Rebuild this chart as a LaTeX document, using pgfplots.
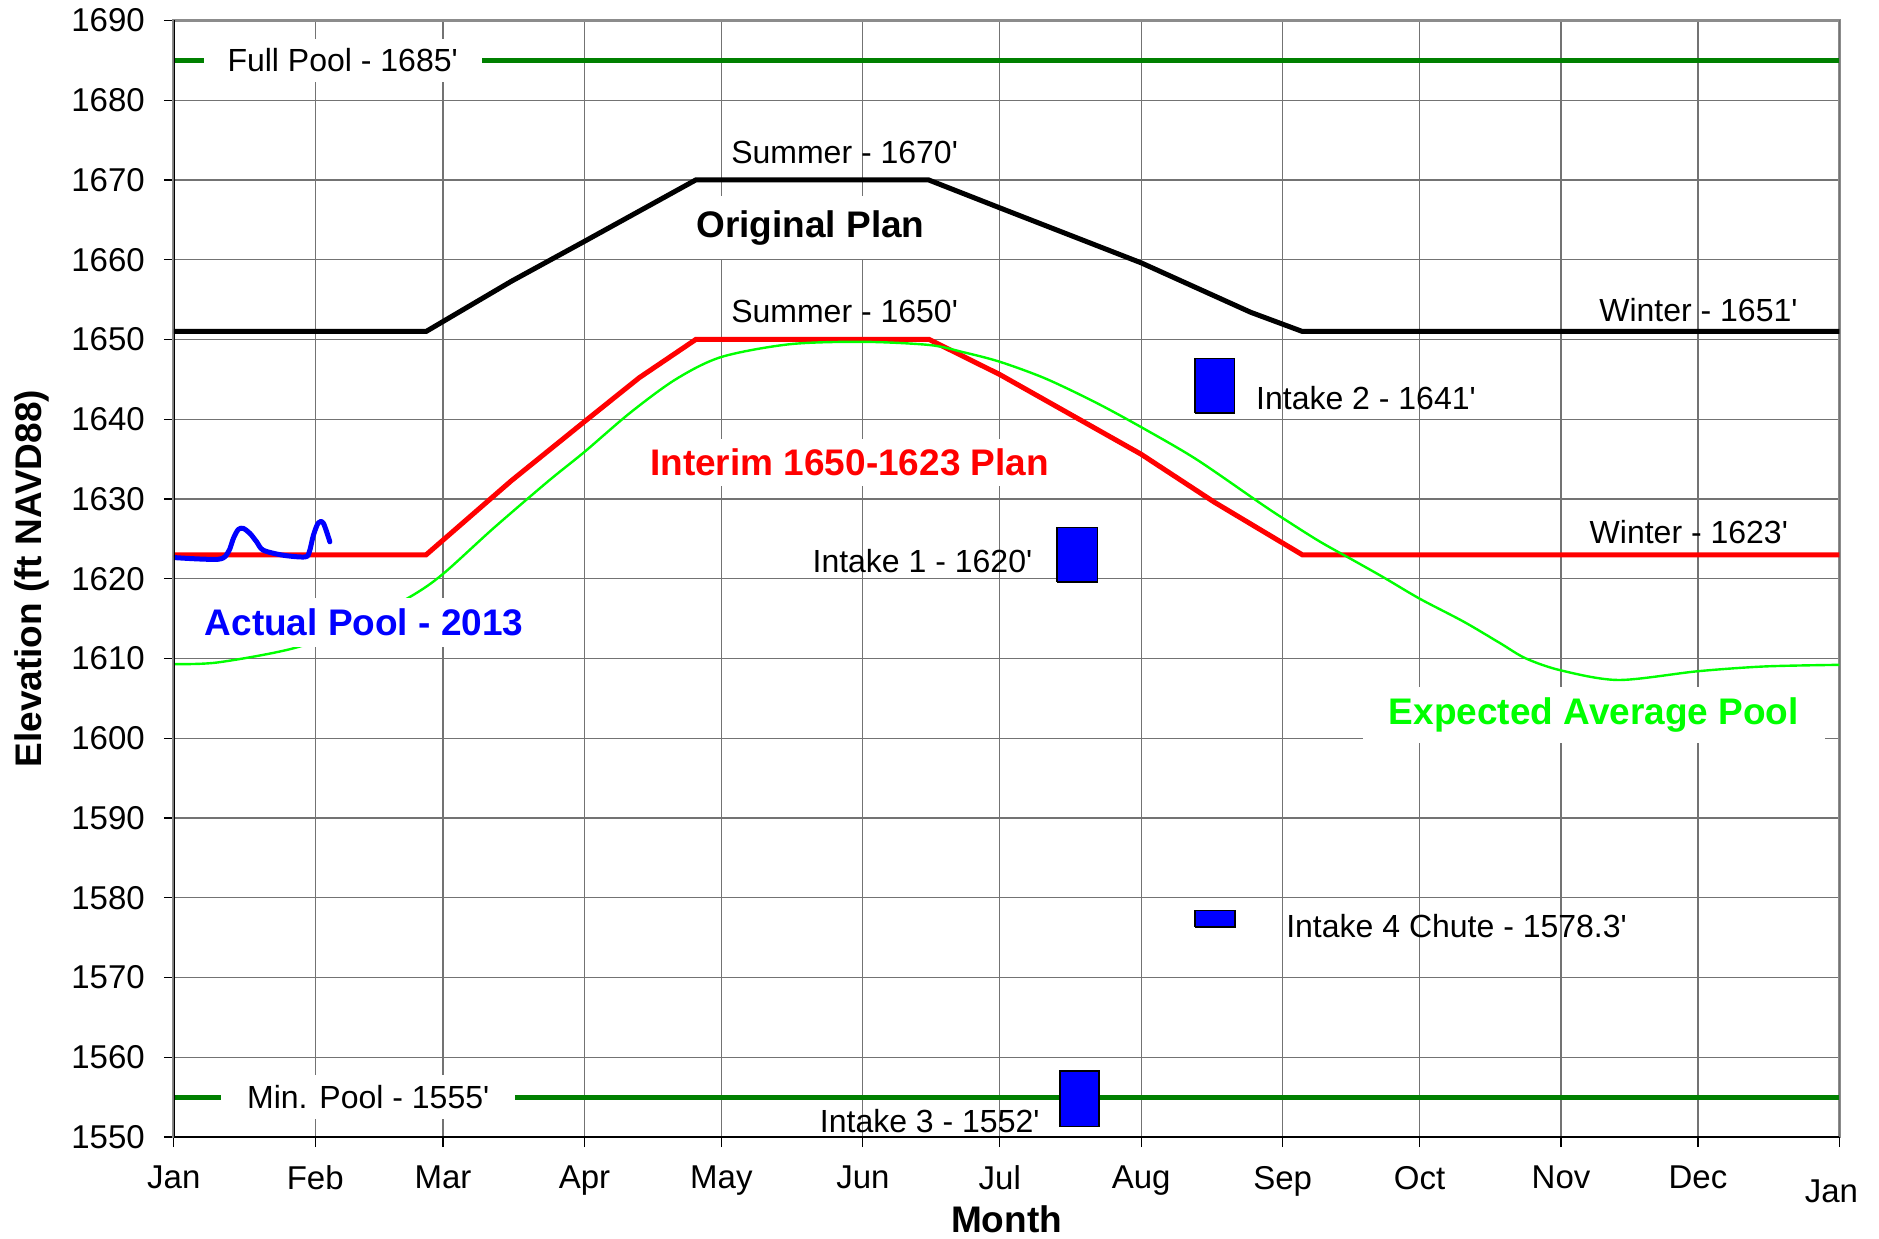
\documentclass[border=0pt]{standalone}
\usepackage{pgfplots}
\pgfplotsset{compat=1.18}
\usepackage{fontspec}
\setmainfont{Liberation Sans}[Ligatures=TeXOff]
\definecolor{poolgreen}{RGB}{0,128,0}
\definecolor{expgreen}{RGB}{0,255,0}
\begin{document}
\begin{tikzpicture}[
 lbl/.style={font=\fontsize{16}{19}\selectfont, inner sep=0pt},
 blbl/.style={font=\fontsize{18.5}{22}\selectfont\bfseries},
]
\begin{axis}[
 scale only axis, width=832.8pt, height=558.3pt,
 xmin=0, xmax=365, ymin=1550, ymax=1690,
 xtick={0,31,59,90,120,151,181,212,243,273,304,334},
 xticklabels={Jan,Feb,Mar,Apr,May,Jun,Jul,Aug,Sep,Oct,Nov,Dec},
 extra x ticks={365}, extra x tick labels={Jan},
 extra x tick style={xticklabel style={yshift=-7pt, xshift=-4pt}},
 ytick={1550,1560,...,1690},
 /pgf/number format/1000 sep={},
 /pgf/number format/assume math mode=true,
 ticklabel style={font=\fontsize{16.5}{19}\selectfont},
 xticklabel style={yshift=-6pt},
 yticklabel style={xshift=-6pt},
 tick align=outside, xtick pos=bottom, ytick pos=left,
 major tick length=5pt,
 tick style={black, line width=0.6pt},
 grid=major,
 major grid style={draw=black!55, line width=0.6pt},
 axis line style={draw=black!45, line width=1.3pt},
 xlabel={Month}, ylabel={Elevation (ft NAVD88)},
 label style={font=\fontsize{18.5}{22}\selectfont\bfseries},
 xlabel style={at={(axis description cs:0.5,-0.0734)}, anchor=center},
 ylabel style={at={(axis description cs:-0.0851,0.5)}, anchor=center},
]
% pool limits
\addplot[poolgreen, line width=2.5pt] coordinates {(0,1685) (365,1685)};
\addplot[poolgreen, line width=2.5pt] coordinates {(0,1555) (365,1555)};
% original plan
\addplot[black, line width=2.5pt] coordinates {
 (0,1651) (55.3,1651) (74,1657.3) (90,1662.3) (114.4,1670) (165.4,1670)
 (181,1666.5) (212,1659.6) (236,1653.4) (247.3,1651) (365,1651)};
% interim plan
\addplot[red, line width=2.5pt] coordinates {
 (0,1623) (55.3,1623) (74,1632.3) (90,1639.7) (102,1645.2) (114.4,1650)
 (165.5,1650) (181,1645.6) (212,1635.6) (228,1629.6) (247.3,1623) (365,1623)};
% expected average pool
\addplot[expgreen, line width=1.2pt, smooth] coordinates {
 (0,1609.3) (9.6,1609.5) (26.4,1611.3) (40,1614.2) (52,1617.8) (59,1620.6)
 (70,1626.3) (82,1632.2) (90,1635.9) (100,1640.8) (110,1645.0) (120,1647.8)
 (135,1649.4) (151,1649.7) (165.6,1649.3) (173,1648.4) (181,1647.2) (191,1645.1)
 (202,1642.1) (212,1639.0) (224,1635.0) (238,1629.5) (243,1627.6) (251,1624.7)
 (258.5,1622.3) (265,1620.2) (273,1617.5) (282.7,1614.6)
 (290.7,1611.9) (296.3,1610.0) (304,1608.5) (316.6,1607.3) (334,1608.4)
 (348.7,1609.0) (365,1609.2)};
% actual pool 2013
\addplot[blue, line width=2.5pt, smooth, line cap=round, line join=round] coordinates {
 (0,1622.65) (9.76,1622.44) (11.95,1623.36) (13.05,1625.04) (14.14,1626.18)
 (15.24,1626.30) (16.70,1625.67) (18.16,1624.62) (19.62,1623.57) (24.0,1622.94)
 (28.75,1622.73) (29.7,1623.36) (30.6,1625.46) (31.7,1627.02) (32.8,1626.93)
 (34.2,1624.62)};
% intakes
\addplot[fill=blue, draw=black, line width=0.8pt] coordinates {
 (193.6,1619.6) (202.4,1619.6) (202.4,1626.4) (193.6,1626.4) (193.6,1619.6)};
\addplot[fill=blue, draw=black, line width=0.8pt] coordinates {
 (223.8,1640.8) (232.4,1640.8) (232.4,1647.6) (223.8,1647.6) (223.8,1640.8)};
\addplot[fill=blue, draw=black, line width=0.8pt] coordinates {
 (194.2,1551.3) (202.8,1551.3) (202.8,1558.3) (194.2,1558.3) (194.2,1551.3)};
\addplot[fill=blue, draw=black, line width=0.8pt] coordinates {
 (223.8,1576.3) (232.6,1576.3) (232.6,1578.4) (223.8,1578.4) (223.8,1576.3)};
% labels
\node[lbl, fill=white, inner xsep=12pt, inner ysep=5pt] at (axis cs:37,1685) {Full Pool - 1685'};
\node[lbl, fill=white, inner xsep=13pt, inner ysep=5pt] at (axis cs:42.6,1555) {Min. Pool - 1555'};
\node[lbl] at (axis cs:147,1673.5) {Summer - 1670'};
\node[lbl] at (axis cs:147,1653.5) {Summer - 1650'};
\node[lbl] at (axis cs:334.1,1653.7) {Winter - 1651'};
\node[lbl] at (axis cs:332,1625.9) {Winter - 1623'};
\node[lbl, anchor=west] at (axis cs:237.1,1642.7) {Intake 2 - 1641'};
\node[lbl, anchor=east] at (axis cs:188.2,1622.2) {Intake 1 - 1620'};
\node[lbl, anchor=west] at (axis cs:243.7,1576.4) {Intake 4 Chute - 1578.3'};
\node[lbl, anchor=east] at (axis cs:189.8,1552.0) {Intake 3 - 1552'};
\node[blbl, fill=white, inner xsep=12pt, inner ysep=7pt] at (axis cs:139.5,1664) {Original Plan};
\node[blbl, red, fill=white, inner xsep=12pt, inner ysep=5pt] at (axis cs:148.1,1634.6) {Interim 1650-1623 Plan};
\node[blbl, blue, fill=white, inner xsep=12pt, inner ysep=5.5pt] at (axis cs:41.7,1614.5) {Actual Pool - 2013};
\node[blbl, expgreen, fill=white, inner xsep=13pt, inner ysep=5.5pt] at (axis cs:311.2,1602.9) {Expected Average Pool};
% left and bottom axis lines in black
\draw[black, line width=1pt] (rel axis cs:0,1) -- (rel axis cs:0,0) -- (rel axis cs:1,0);
\end{axis}
\pgfresetboundingbox
\path[use as bounding box] (-86.9pt,-50.5pt) rectangle (852.6pt,568.5pt);
\end{tikzpicture}
\end{document}
